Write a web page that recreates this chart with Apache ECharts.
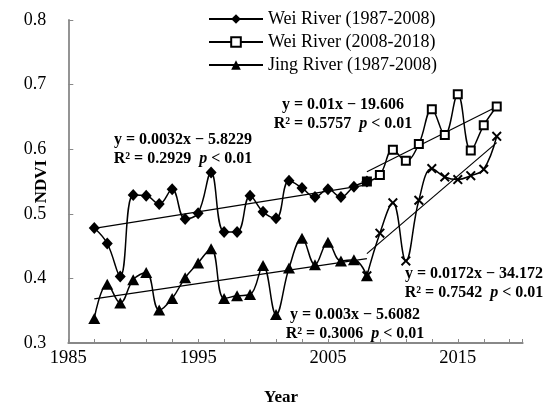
<!DOCTYPE html>
<html><head><meta charset="utf-8">
<script src="https://cdn.jsdelivr.net/npm/echarts@6/dist/echarts.min.js"></script>
<style>html,body{margin:0;padding:0;background:#fff}#c{width:543px;height:412px}</style>
</head><body><div id="c"></div>
<script>
// ---- data ----
const yearsA = [1987,1988,1989,1990,1991,1992,1993,1994,1995,1996,1997,1998,1999,2000,2001,2002,2003,2004,2005,2006,2007,2008];
const weiA  = [0.478,0.454,0.403,0.529,0.528,0.515,0.538,0.492,0.501,0.564,0.472,0.472,0.528,0.503,0.493,0.551,0.540,0.526,0.538,0.526,0.542,0.550];
const jingA = [0.338,0.391,0.362,0.398,0.409,0.351,0.369,0.401,0.424,0.446,0.369,0.373,0.375,0.420,0.344,0.416,0.462,0.421,0.456,0.427,0.429,0.404];
const yearsB = [2008,2009,2010,2011,2012,2013,2014,2015,2016,2017,2018];
const weiB  = [0.550,0.560,0.599,0.582,0.608,0.662,0.622,0.685,0.598,0.637,0.666];
const jingB = [0.404,0.470,0.517,0.427,0.521,0.570,0.557,0.553,0.559,0.569,0.620];
const seriesNames = ['Wei River (1987-2008)','Wei River (2008-2018)','Jing River (1987-2008)','Jing River (2008-2018)'];
const xLabelYears = [1985,1995,2005,2015];
const eqWeiA  = ['y = 0.0032x − 5.8229','R² = 0.2929  {i|p} < 0.01'];
const eqWeiB  = ['y = 0.01x − 19.606','R² = 0.5757  {i|p} < 0.01'];
const eqJingB = ['y = 0.0172x − 34.172','R² = 0.7542  {i|p} < 0.01'];
const eqJingA = ['y = 0.003x − 5.6082','R² = 0.3006  {i|p} < 0.01'];

// ---- helpers ----
function pairs(xs, ys){ return xs.map((x,i)=>[x, ys[i]]); }
function fitLine(xs, ys){
  const n = xs.length;
  const mx = xs.reduce((a,b)=>a+b,0)/n, my = ys.reduce((a,b)=>a+b,0)/n;
  let sxy=0, sxx=0;
  for(let i=0;i<n;i++){ sxy += (xs[i]-mx)*(ys[i]-my); sxx += (xs[i]-mx)*(xs[i]-mx); }
  const b = sxy/sxx, a = my - b*mx;
  const x0 = xs[0], x1 = xs[n-1];
  return [[x0, a+b*x0],[x1, a+b*x1]];
}
const FONT = "'Liberation Serif','Times New Roman',serif";
const crossPath = 'path://M0,1.4L1.4,0L5,3.6L8.6,0L10,1.4L6.4,5L10,8.6L8.6,10L5,6.4L1.4,10L0,8.6L3.6,5Z';

function dataSeries(name, data, symbol, size, itemStyle, extra){
  return Object.assign({
    name, type:'line', data, symbol, symbolSize:size, smooth:0.4,
    lineStyle:{color:'#000', width:1.5}, itemStyle, z:3, animation:false
  }, extra||{});
}
function trendSeries(data){
  return {type:'line', data, symbol:'none', lineStyle:{color:'#000', width:1.2}, z:2, animation:false, silent:true};
}
function eqText(lines, cx, cy){
  const rich = {i:{fontStyle:'italic', fontWeight:'bold', fontSize:16, fontFamily:FONT, fill:'#000'}};
  return lines.map((t,k)=>({
    type:'text', x:cx, y:cy + k*19, z:10,
    style:{text:t, fill:'#000', fontSize:16, fontWeight:'bold', fontFamily:FONT, align:'center', verticalAlign:'middle', rich}
  }));
}

const weiBData = pairs(yearsB, weiB).map((p,i)=> i===0 ? {value:p, itemStyle:{color:'#000'}} : p);

const option = {
  backgroundColor:'#fff',
  animation:false,
  grid:{left:68.3, right:20.3, top:20, bottom:69, containLabel:false, outerBoundsMode:'none'},
  legend:{
    orient:'vertical', left:203, top:5, itemWidth:54, itemHeight:12, itemGap:5,
    data:seriesNames.slice(0,3),
    textStyle:{fontFamily:FONT, fontSize:18, color:'#000'}
  },
  xAxis:{
    type:'value', min:1985, max:2020, interval:2,
    axisLine:{lineStyle:{color:'#888', width:1.8}},
    axisTick:{inside:true, length:4, lineStyle:{color:'#888', width:1}},
    splitLine:{show:false},
    axisLabel:{fontFamily:FONT, fontSize:18.5, color:'#000', margin:6,
      formatter:v=> xLabelYears.includes(Math.round(v)) && Math.abs(v-Math.round(v))<1e-6 ? String(Math.round(v)) : ''},
    name:'Year', nameLocation:'middle', nameGap:46, nameMoveOverlap:false,
    nameTextStyle:{fontFamily:FONT, fontSize:17, fontWeight:'bold', color:'#000', padding:[0,29,0,0]}
  },
  yAxis:{
    type:'value', min:0.3, max:0.8, interval:0.1,
    axisLine:{show:true, lineStyle:{color:'#888', width:1.8}},
    axisTick:{show:true, inside:true, length:5, lineStyle:{color:'#888', width:1}},
    splitLine:{show:false},
    axisLabel:{fontFamily:FONT, fontSize:18, color:'#000', margin:22, formatter:v=>v.toFixed(1)},
    name:'NDVI', nameLocation:'middle', nameGap:18, nameRotate:90, nameMoveOverlap:false,
    nameTextStyle:{fontFamily:FONT, fontSize:17, fontWeight:'bold', color:'#000'}
  },
  series:[
    trendSeries(fitLine(yearsA, weiA)),
    trendSeries(fitLine(yearsB, weiB)),
    trendSeries(fitLine(yearsA, jingA)),
    trendSeries(fitLine(yearsB, jingB)),
    dataSeries(seriesNames[1], weiBData, 'rect', 8, {color:'#fff', borderColor:'#000', borderWidth:2}),
    dataSeries(seriesNames[0], pairs(yearsA, weiA), 'diamond', [11,12], {color:'#000'}),
    dataSeries(seriesNames[3], pairs(yearsB, jingB), crossPath, 10, {color:'#000'}),
    dataSeries(seriesNames[2], pairs(yearsA, jingA), 'triangle', [12,11], {color:'#000'})
  ],
  graphic:[].concat(
    eqText(eqWeiA, 183, 140),
    eqText(eqWeiB, 343, 105),
    eqText(eqJingB, 474, 274),
    eqText(eqJingA, 355, 315)
  )
};
const chart = echarts.init(document.getElementById('c'), null, {renderer:'canvas'});
chart.setOption(option);
</script></body></html>
